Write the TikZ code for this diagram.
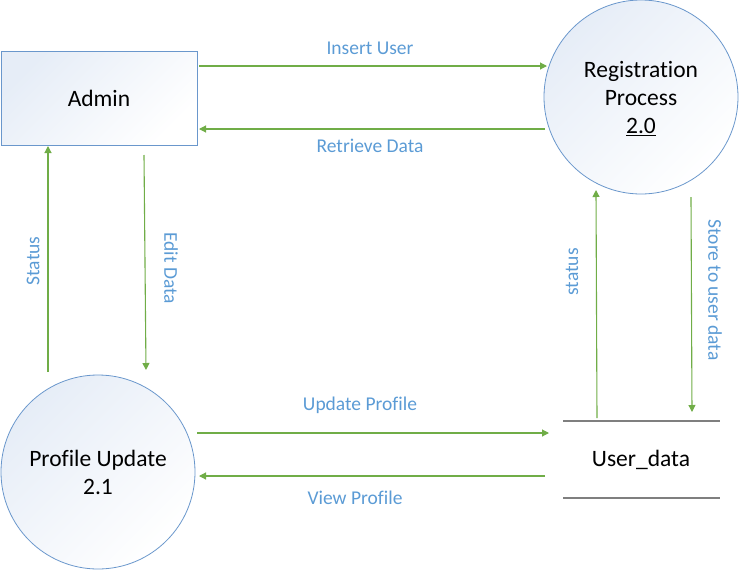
\documentclass[tikz,border=0pt]{standalone}
\usepackage{fontspec}
\setmainfont{Carlito}[Ligatures={NoCommon,NoRequired,NoContextual}]
\usetikzlibrary{arrows.meta}
\definecolor{flowgreen}{HTML}{70AD47}
\definecolor{lblblue}{HTML}{5B9BD5}
\definecolor{edgeblue}{HTML}{6A97CC}
\definecolor{fillblue}{HTML}{E6EDF7}
\definecolor{storegray}{HTML}{7F7F7F}
\tikzset{
  entity/.style={draw=edgeblue, line width=0.8pt, minimum width=196pt, minimum height=94pt,
    inner sep=0pt, top color=fillblue, bottom color=white, shading angle=45,
    font=\fontsize{23.5}{28}\selectfont},
  proc/.style={circle, draw=edgeblue, line width=0.8pt, minimum size=194pt, inner sep=0pt,
    top color=fillblue, bottom color=white, shading angle=45, align=center,
    font=\fontsize{23.5}{28}\selectfont},
  flow/.style={draw=flowgreen, line width=1.1pt, -{Triangle[length=7pt,width=7pt]}},
  lbl/.style={text=lblblue, font=\fontsize{19.5}{23}\selectfont, inner sep=1pt},
  storeline/.style={draw=storegray, line width=1.4pt},
}
\begin{document}
\begin{tikzpicture}[x=1pt,y=-1pt]
\useasboundingbox (0,0) rectangle (740,571);
% nodes
\node[entity] (admin) at (99,98) {Admin};
\node[proc] (reg) at (641,97) {};
\node[align=center, font=\fontsize{23.5}{28}\selectfont] (regtext) at (641,99) {Registration\\Process\\\underline{2.0}};
\node[proc] (prof) at (98,472) {Profile Update\\2.1};
\node[font=\fontsize{23.5}{28}\selectfont] (store) at (641,460) {User\_data};
\coordinate (st1) at (563,421);
\coordinate (st2) at (720,421);
\coordinate (sb1) at (563,498);
\coordinate (sb2) at (720,498);
\draw[storeline] (st1) -- (st2);
\draw[storeline] (sb1) -- (sb2);
% flow endpoints
\coordinate (iu1) at (199,66);  \coordinate (iu2) at (547,66);
\coordinate (rd1) at (545,129); \coordinate (rd2) at (199,129);
\coordinate (s1) at (48,372);   \coordinate (s2) at (48,146);
\coordinate (ed1) at (144,155); \coordinate (ed2) at (146,370);
\coordinate (ss1) at (597,418); \coordinate (ss2) at (596,190);
\coordinate (su1) at (691,197); \coordinate (su2) at (692,412);
\coordinate (up1) at (197,433); \coordinate (up2) at (549,433);
\coordinate (vp1) at (545,476); \coordinate (vp2) at (199,476);
\draw[flow] (iu1) -- (iu2);
\draw[flow] (rd1) -- (rd2);
\draw[flow] (s1) -- (s2);
\draw[flow] (ed1) -- (ed2);
\draw[flow] (ss1) -- (ss2);
\draw[flow] (su1) -- (su2);
\draw[flow] (up1) -- (up2);
\draw[flow] (vp1) -- (vp2);
% labels
\node[lbl] (liu) at (370,48) {Insert User};
\node[lbl] (lrd) at (370,146) {Retrieve Data};
\node[lbl, rotate=90] (ls) at (33,261) {Status};
\node[lbl, rotate=-90] (led) at (171,268) {Edit Data};
\node[lbl, rotate=90] (lss) at (572,272) {status};
\node[lbl, rotate=-90] (lsu) at (715,290) {Store to user data};
\node[lbl] (lup) at (360,405) {Update Profile};
\node[lbl] (lvp) at (355,498) {View Profile};
\end{tikzpicture}
\end{document}
